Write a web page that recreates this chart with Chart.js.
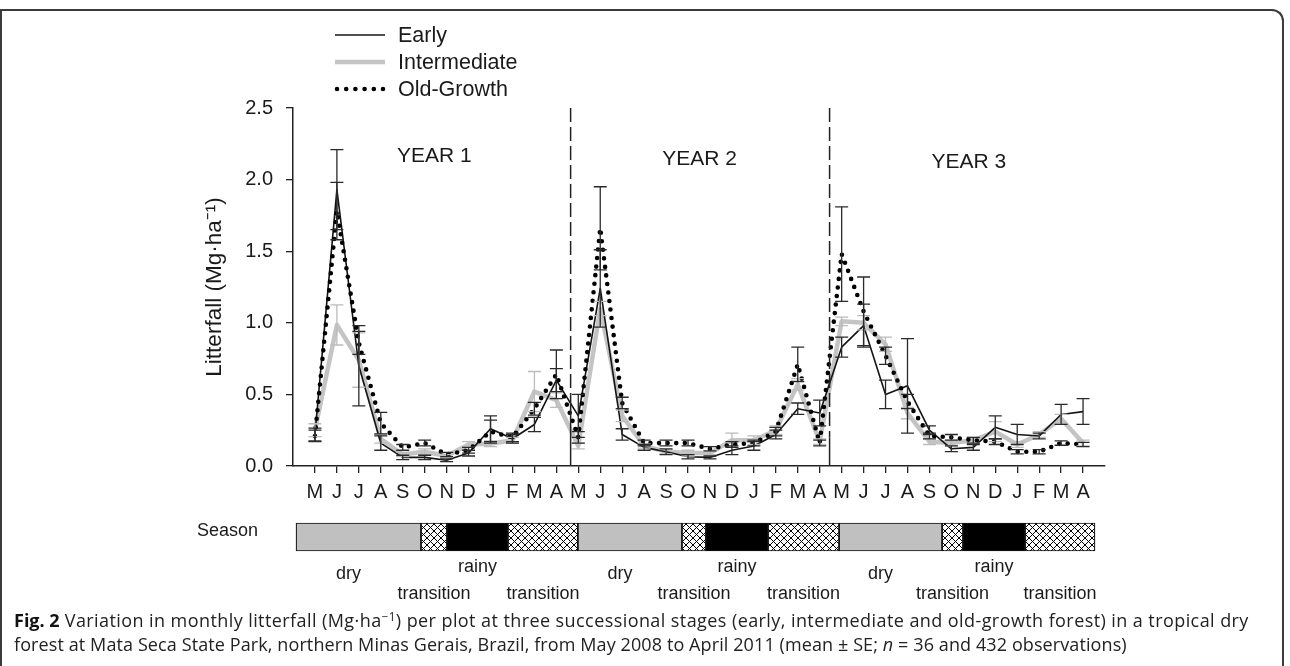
<!DOCTYPE html>
<html><head><meta charset="utf-8">
<script src="https://cdn.jsdelivr.net/npm/chart.js@4.4.1/dist/chart.umd.min.js"></script>
<style>
html,body{margin:0;padding:0;background:#fff;}
body{width:1290px;height:666px;position:relative;overflow:hidden;font-family:"Liberation Sans",Arial,sans-serif;}
#frame{position:absolute;left:0;top:9px;width:1284px;height:720px;border-top:2px solid #3a3a3a;border-right:2px solid #3a3a3a;border-left:2px solid #3a3a3a;border-top-right-radius:12px;box-sizing:border-box;}
#c1{position:absolute;left:0;top:0;}
#c2{position:absolute;left:0;top:482px;}
.cap{position:absolute;left:14px;white-space:nowrap;font-family:"Open Sans","Noto Sans",sans-serif;font-size:18px;letter-spacing:0.42px;color:#222;line-height:23px;}
#cap2{letter-spacing:0.1px;}
.cap b{font-weight:700;color:#111;letter-spacing:0;}
.cap sup{font-size:0.65em;line-height:0;vertical-align:0.55em;}
</style></head>
<body>
<div id="frame"></div>
<canvas id="c1" width="1290" height="515"></canvas>
<canvas id="c2" width="1290" height="130"></canvas>
<div class="cap" id="cap1" style="top:609px"><b>Fig. 2</b> Variation in monthly litterfall (Mg·ha<sup>−1</sup>) per plot at three successional stages (early, intermediate and old-growth forest) in a tropical dry</div>
<div class="cap" id="cap2" style="top:633px">forest at Mata Seca State Park, northern Minas Gerais, Brazil, from May 2008 to April 2011 (mean ± SE; <i>n</i> = 36 and 432 observations)</div>
<script>
// ---------- data ----------
const months = ['M','J','J','A','S','O','N','D','J','F','M','A',
                'M','J','J','A','S','O','N','D','J','F','M','A',
                'M','J','J','A','S','O','N','D','J','F','M','A'];
const yTicks = [0, 0.5, 1.0, 1.5, 2.0, 2.5];
const early = [0.22,1.93,0.70,0.16,0.06,0.06,0.04,0.09,0.26,0.19,0.29,0.60,
               0.35,1.24,0.22,0.13,0.10,0.065,0.06,0.11,0.14,0.22,0.40,0.37,
               0.83,0.98,0.50,0.56,0.25,0.12,0.13,0.27,0.22,0.21,0.36,0.38];
const earlySE = [0.045,0.28,0.28,0.05,0.015,0.015,0.01,0.02,0.09,0.03,0.05,0.08,
                 0.15,0.27,0.04,0.02,0.02,0.015,0.01,0.03,0.03,0.03,0.04,0.09,
                 0.07,0.15,0.10,0.33,0.03,0.02,0.02,0.08,0.07,0.02,0.07,0.09];
const inter = [0.25,0.985,0.74,0.19,0.08,0.10,0.07,0.15,0.155,0.18,0.52,0.46,
               0.14,1.10,0.35,0.14,0.10,0.09,0.09,0.18,0.18,0.25,0.57,0.17,
               1.01,1.00,0.85,0.37,0.17,0.16,0.18,0.24,0.15,0.22,0.33,0.16];
const interSE = [0.045,0.14,0.19,0.03,0.015,0.02,0.01,0.02,0.02,0.02,0.14,0.05,
                 0.02,0.05,0.04,0.015,0.015,0.02,0.01,0.05,0.03,0.03,0.04,0.02,
                 0.03,0.05,0.05,0.04,0.02,0.02,0.02,0.07,0.02,0.02,0.03,0.02];
const og = [0.21,1.78,0.86,0.30,0.13,0.16,0.08,0.11,0.24,0.20,0.40,0.64,
            0.20,1.66,0.44,0.16,0.16,0.16,0.12,0.15,0.16,0.24,0.71,0.16,
            1.48,1.08,0.77,0.45,0.21,0.20,0.18,0.17,0.10,0.10,0.16,0.15];
const ogSE = [0.04,0.20,0.08,0.075,0.02,0.02,0.015,0.02,0.08,0.03,0.045,0.17,
              0.04,0.29,0.04,0.02,0.02,0.02,0.015,0.02,0.02,0.03,0.12,0.02,
              0.33,0.24,0.06,0.05,0.02,0.02,0.02,0.02,0.015,0.015,0.015,0.015];
const seasonKinds = ['dry','transition','rainy','transition',
                     'dry','transition','rainy','transition',
                     'dry','transition','rainy','transition'];
const seasonMonths = [5.68,1.18,2.77,3.18, 4.73,1.09,2.82,3.23, 4.68,0.95,2.82,3.18];
const yearLabels = ['YEAR 1','YEAR 2','YEAR 3'];

// ---------- annotation placement (data units) ----------
const yearLabelPos = [{x:5.44,y:2.16},{x:17.53,y:2.14},{x:29.8,y:2.12}];
const dividers = [{x:11.65, solidBelow:0.5},{x:23.45, solidBelow:0.2}];

const FONT = '"Liberation Sans", Arial, sans-serif';
const TXT = '#1a1a1a';

const styles = {
  Early:{color:'#141414', width:1.6, dash:[], cap:'butt', err:'#2a2a2a'},
  Intermediate:{color:'#c4c4c4', width:4.5, dash:[], cap:'butt', err:'#bcbcbc'},
  'Old-Growth':{color:'#000000', width:4.6, dash:[0,8.6], cap:'round', err:'#2a2a2a'}
};

function pts(arr){ return arr.map((v,i)=>({x:i,y:v})); }
function mk(label, arr, se, order){
  const s = styles[label];
  return {label, data:pts(arr), se, borderColor:s.color, borderWidth:s.width,
    borderDash:s.dash, borderCapStyle:s.cap, borderJoinStyle:'round',
    pointRadius:0, fill:false, tension:0, order};
}

const errorBars = {
  id:'errorBars',
  afterDatasetsDraw(chart){
    const {ctx, scales:{x,y}} = chart;
    const orderDraw = [1,0,2];
    ctx.save();
    orderDraw.forEach(di=>{
      const d = chart.data.datasets[di];
      const s = styles[d.label];
      ctx.strokeStyle = s.err; ctx.lineWidth = 1.3; ctx.setLineDash([]);
      d.data.forEach((p,i)=>{
        const e = d.se[i];
        const px = x.getPixelForValue(p.x);
        const y1 = y.getPixelForValue(p.y + e), y0 = y.getPixelForValue(Math.max(0,p.y - e));
        ctx.beginPath();
        ctx.moveTo(px,y0); ctx.lineTo(px,y1);
        ctx.moveTo(px-6.5,y1); ctx.lineTo(px+6.5,y1);
        ctx.moveTo(px-6.5,y0); ctx.lineTo(px+6.5,y0);
        ctx.stroke();
      });
    });
    ctx.restore();
  }
};

const decor = {
  id:'decor',
  afterDraw(chart){
    const {ctx, scales:{x,y}} = chart;
    ctx.save();
    // year dividers
    ctx.strokeStyle = '#222'; ctx.lineWidth = 1.5;
    dividers.forEach(dv=>{
      const px = x.getPixelForValue(dv.x);
      ctx.setLineDash([14,5]);
      ctx.beginPath(); ctx.moveTo(px,y.getPixelForValue(2.5)); ctx.lineTo(px,y.getPixelForValue(dv.solidBelow)); ctx.stroke();
      ctx.setLineDash([]);
      ctx.beginPath(); ctx.moveTo(px,y.getPixelForValue(dv.solidBelow)); ctx.lineTo(px,y.getPixelForValue(0)); ctx.stroke();
    });
    // year labels
    ctx.fillStyle = TXT; ctx.font = '21px '+FONT; ctx.textAlign='center'; ctx.textBaseline='middle';
    yearLabels.forEach((t,i)=>{
      ctx.fillText(t, x.getPixelForValue(yearLabelPos[i].x), y.getPixelForValue(yearLabelPos[i].y));
    });
    // legend
    const ly = [35,62,89];
    const names = ['Early','Intermediate','Old-Growth'];
    names.forEach((n,i)=>{
      const d = chart.data.datasets.find(dd=>dd.label===n);
      const s = styles[d.label];
      ctx.strokeStyle = s.color; ctx.lineWidth = s.width; ctx.lineCap = s.cap;
      ctx.beginPath();
      if (s.dash.length) { ctx.setLineDash([0,9.2]); ctx.moveTo(337,ly[i]); ctx.lineTo(385,ly[i]); }
      else { ctx.setLineDash([]); ctx.moveTo(335,ly[i]); ctx.lineTo(385,ly[i]); }
      ctx.stroke();
      ctx.setLineDash([]); ctx.lineCap='butt';
      ctx.fillStyle = TXT; ctx.font='21.5px '+FONT; ctx.textAlign='left'; ctx.textBaseline='middle';
      ctx.fillText(d.label, 398, ly[i]+1);
    });
    ctx.restore();
  }
};

new Chart(document.getElementById('c1'), {
  type:'line',
  data:{datasets:[mk('Early',early,earlySE,2), mk('Intermediate',inter,interSE,3), mk('Old-Growth',og,ogSE,1)]},
  options:{
    responsive:false, animation:false,
    layout:{padding:{left:0,right:185,top:108,bottom:9}},
    plugins:{legend:{display:false}, tooltip:{enabled:false}},
    scales:{
      x:{type:'linear', min:-1, max:36,
        afterBuildTicks(s){ s.ticks = months.map((m,i)=>({value:i})); },
        afterFit(s){ s.height = 40; },
        grid:{drawOnChartArea:false, drawTicks:true, tickLength:7, color:'#222', lineWidth:1.3},
        border:{display:true, color:'#222', width:1.5},
        ticks:{callback:(v)=>months[v], autoSkip:false, maxRotation:0, padding:7, color:TXT, font:{size:20, family:FONT}}
      },
      y:{type:'linear', min:0, max:2.5,
        afterBuildTicks(s){ s.ticks = yTicks.map(v=>({value:v})); },
        afterFit(s){ s.width = 293; },
        grid:{drawOnChartArea:false, drawTicks:true, tickLength:7, color:'#222', lineWidth:1.3},
        border:{display:true, color:'#222', width:1.5},
        ticks:{callback:(v)=>Number(v).toFixed(1), padding:13, color:TXT, font:{size:20, family:FONT}},
        title:{display:true, text:'Litterfall (Mg·ha⁻¹)', color:TXT, font:{size:22.5, family:FONT}, padding:{top:201,bottom:0}}
      }
    }
  },
  plugins:[errorBars, decor]
});

// ---------- season bar ----------
const c2 = document.getElementById('c2');
const ctx2 = c2.getContext('2d');
function hatch(){
  const c = document.createElement('canvas'); c.width = 7; c.height = 7;
  const g = c.getContext('2d');
  g.fillStyle='#fff'; g.fillRect(0,0,7,7);
  g.strokeStyle='#000'; g.lineWidth=1;
  g.beginPath(); g.moveTo(0,0); g.lineTo(7,7); g.moveTo(7,0); g.lineTo(0,7); g.stroke();
  return ctx2.createPattern(c,'repeat');
}
const hatchPat = hatch();
const fills = {dry:'#c0c0c0', rainy:'#000000', transition:hatchPat};
const C2TOP = 482;

const seasonLabels = {
  id:'seasonLabels',
  afterDraw(chart){
    const {ctx, scales:{x}} = chart;
    ctx.save();
    ctx.fillStyle = TXT; ctx.font='18px '+FONT; ctx.textAlign='center'; ctx.textBaseline='middle';
    const rowY = {dry:574, rainy:567, transition:594};
    let acc = 0;
    seasonMonths.forEach((m,i)=>{
      const c = acc + m/2; acc += m;
      const k = seasonKinds[i];
      const px = x.getPixelForValue(c) + (k==='dry' ? -10 : 0);
      ctx.fillText(k, px, rowY[k] - C2TOP);
    });
    ctx.restore();
  }
};

new Chart(c2, {
  type:'bar',
  data:{labels:['Season'], datasets: seasonMonths.map((m,i)=>({label:seasonKinds[i], data:[m],
    backgroundColor:fills[seasonKinds[i]], borderColor:'#111', borderWidth:1.2, borderSkipped:false,
    barPercentage:1, categoryPercentage:1, stack:'s', clip:false}))},
  options:{
    indexAxis:'y', responsive:false, animation:false,
    layout:{padding:{left:0,right:195,top:41,bottom:61}},
    plugins:{legend:{display:false}, tooltip:{enabled:false}},
    scales:{
      x:{stacked:true, min:0, max:seasonMonths.reduce((a,b)=>a+b,0), display:false},
      y:{stacked:true, grid:{display:false}, border:{display:false},
         afterFit(s){ s.width = 296; },
         ticks:{padding:30, labelOffset:-6, color:TXT, font:{size:18, family:FONT}}}
    }
  },
  plugins:[seasonLabels]
});
</script>
</body></html>
